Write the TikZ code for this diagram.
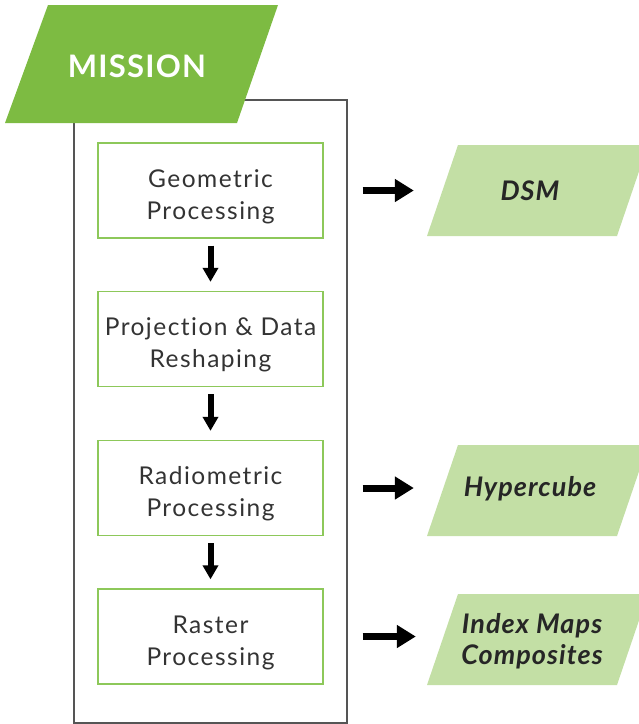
\documentclass[tikz,border=0pt]{standalone}
\usepackage{fontspec}
\setmainfont{Lato}
\newfontfamily\boxfont{Lato}[LetterSpace=6,Ligatures={NoCommon,NoRare}]
\newfontfamily\lblfont{Lato}[LetterSpace=4,Ligatures={NoCommon,NoRare}]
\usetikzlibrary{arrows.meta}

\definecolor{missiongreen}{HTML}{7DBB42}
\definecolor{outgreen}{HTML}{C3DFA5}
\definecolor{boxgreen}{HTML}{8DC85A}
\definecolor{boxtext}{HTML}{333333}
\definecolor{framegray}{HTML}{555555}

\begin{document}
\begin{tikzpicture}[x=1pt,y=-1pt,
	stepbox/.style={draw=boxgreen,line width=1.3pt,minimum width=225pt,minimum height=95pt,inner sep=0pt,align=center,text=boxtext,font=\boxfont\fontsize{24.5}{32}\selectfont,text height=62pt},
	outlbl/.style={minimum width=150pt,inner sep=0pt,align=center,text=black!85,font=\lblfont\fontsize{27}{31}\selectfont\bfseries\itshape},
	downarr/.style={-{Triangle[width=15pt,length=14pt]},line width=6pt,shorten <=7pt,shorten >=9pt},
	rightarr/.style={-{Triangle[width=22pt,length=19pt]},line width=7pt,shorten <=39pt,shorten >=41pt}]
				
				\useasboundingbox (0,0) rectangle (639,724);
				
				\draw[framegray,line width=1.3pt] (74,100) rectangle (347,723);
				
				\fill[missiongreen] (5,123) -- (48,5) -- (278,5) -- (237,123) -- cycle;
				\node[text=white,font=\lblfont\fontsize{31}{36}\selectfont\bfseries] (lblMission) at (137,66) {MISSION};
				
				\node[stepbox] (Geo) at (210.5,190.5) {Geometric\\Processing};
				\node[stepbox] (Proj) at (210.5,339) {Projection \& Data\\Reshaping};
				\node[stepbox] (Radio) at (210.5,488) {Radiometric\\Processing};
				\node[stepbox] (Raster) at (210.5,636.5) {Raster\\Processing};
				
				\draw[downarr] (Geo) -- (Proj);
				\draw[downarr] (Proj) -- (Radio);
				\draw[downarr] (Radio) -- (Raster);
				
				\fill[outgreen] (427,236) -- (458,145) -- (648,145) -- (617,236) -- cycle;
				\node[outlbl] (DSM) at (530,190.5) {DSM};
				\fill[outgreen] (427,536) -- (458,445) -- (648,445) -- (617,536) -- cycle;
				\node[outlbl] (Cube) at (530,489) {Hypercube};
				\fill[outgreen] (427,685) -- (458,594) -- (648,594) -- (617,685) -- cycle;
				\node[outlbl] (Index) at (532,641) {Index Maps\\Composites};
				
				\draw[rightarr] (Geo.east) -- (Geo.east -| DSM.west);
				\draw[rightarr] (Radio.east) -- (Radio.east -| Cube.west);
				\draw[rightarr] (Raster.east) -- (Raster.east -| Index.west);
				
\end{tikzpicture}
\end{document}
